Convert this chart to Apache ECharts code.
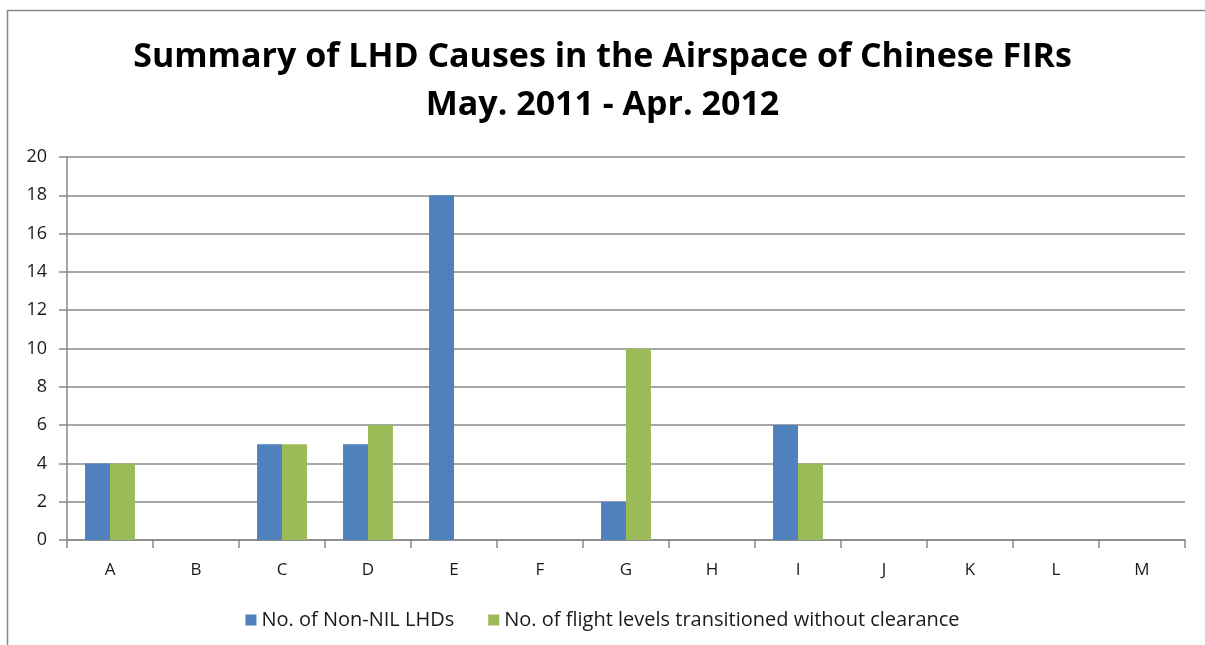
<!DOCTYPE html>
<html><head><meta charset="utf-8">
<script src="https://cdn.jsdelivr.net/npm/echarts@6/dist/echarts.min.js"></script>
<style>html,body{margin:0;padding:0;background:#fff}#c{width:1205px;height:645px}</style>
</head><body><div id="c"></div>
<script>
const categories = ['A','B','C','D','E','F','G','H','I','J','K','L','M'];
const nonNilLHDs = [4,0,5,5,18,0,2,0,6,0,0,0,0];
const flightLevels = [4,0,5,6,0,0,10,0,4,0,0,0,0];
const seriesNames = ['No. of Non-NIL LHDs','No. of flight levels transitioned without clearance'];

const chart = echarts.init(document.getElementById('c'));
chart.setOption({
  backgroundColor:'#fff',
  animation:false,
  graphic:[{type:'rect',shape:{x:7.5,y:10.5,width:1210,height:650},style:{fill:'none',stroke:'#888',lineWidth:1.5},silent:true}],
  title:{
    text:'Summary of LHD Causes in the Airspace of Chinese FIRs\nMay. 2011 - Apr. 2012',
    left:'center', top:28,
    textStyle:{fontFamily:'Open Sans',fontWeight:'bold',fontSize:34,lineHeight:48,color:'#000'}
  },
  legend:{
    top:605, left:'center', itemWidth:11, itemHeight:11, itemGap:34, icon:'rect',
    textStyle:{fontFamily:'Open Sans',fontSize:20,color:'#1a1a1a'}
  },
  grid:{left:67,right:20,top:157,bottom:105,containLabel:false},
  xAxis:{
    type:'category', data:categories,
    axisLine:{lineStyle:{color:'#888',width:1.5}},
    axisTick:{show:true,length:8,lineStyle:{color:'#888',width:1.5}},
    axisLabel:{fontFamily:'Open Sans',fontSize:17,color:'#1a1a1a',margin:22}
  },
  yAxis:{
    type:'value', min:0, max:20, interval:2,
    axisLine:{show:true,lineStyle:{color:'#888',width:1.5}},
    axisTick:{show:true,length:8,lineStyle:{color:'#888',width:1.5}},
    splitLine:{lineStyle:{color:'#888',width:1.5}},
    axisLabel:{fontFamily:'Open Sans',fontSize:18,color:'#1a1a1a',margin:20}
  },
  series:[
    {name:seriesNames[0],type:'bar',data:nonNilLHDs,barGap:'0%',barCategoryGap:'42%',
     itemStyle:{color:'#4F81BD'}},
    {name:seriesNames[1],type:'bar',data:flightLevels,barGap:'0%',barCategoryGap:'42%',
     itemStyle:{color:'#9BBB59'}}
  ]
});
</script></body></html>
